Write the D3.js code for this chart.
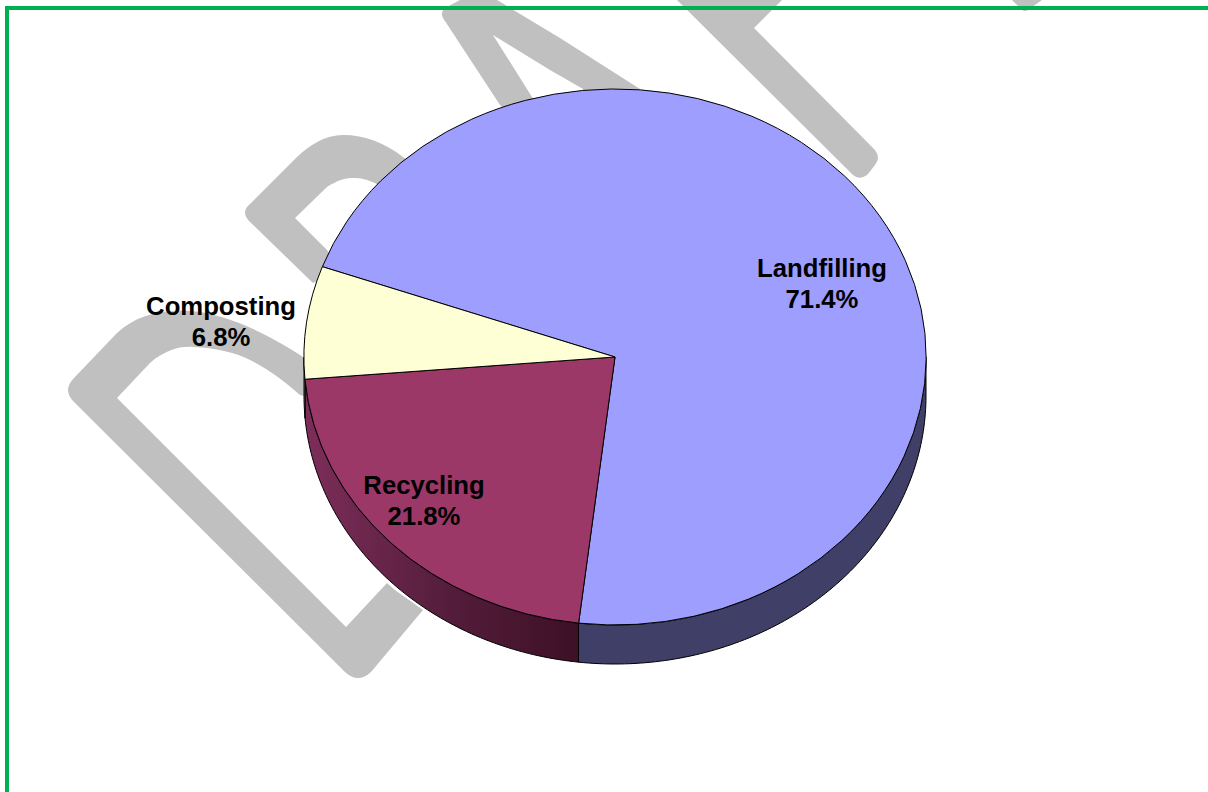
<!DOCTYPE html>
<html>
<head>
<meta charset="utf-8">
<script src="https://cdn.jsdelivr.net/npm/d3@7"></script>
<style>
    html, body { margin: 0; padding: 0; background: #fff; overflow: hidden; }
    svg { display: block; }
    text { font-family: "Liberation Sans", Arial, sans-serif; font-weight: bold; font-size: 25.7px; fill: #000; }
</style>
</head>
<body>
<div id="chart"></div>
<script>
const categories = ['Landfilling', 'Recycling', 'Composting'];
const shares = [71.4, 21.8, 6.8];
const topColors = ['#9e9eff', '#9c3868', '#ffffd5'];

// the grey DRAFT watermark (the pie hides the rest of it)
const watermark = [
    'M320,370 L300,355 C270,335 225,313 190,311 C160,309 135,316 117,333 L74,378 Q62,390 74,402 L345,672 Q358,684 371,672 L423,610 L395,590 L387,583 L346,627 L117,398 L150,363 C165,350 180,346 193,347 C215,348 235,352 250,360 C270,370 285,382 300,395 L320,400 Z',
    'M420,170 L403,157 C385,143 365,135 343,135 C325,135 310,145 297,157 L250,204 Q240,212 250,222 L313,283 L340,270 L327,250 L295,218 L327,187 C338,180 345,178 353,178 C362,178 368,180 375,183 L400,200 Z',
    'M460,0 L445,8 Q440,12 443,18 L500,105 L520,125 L545,115 L532,97 L493,35 L550,70 L583,89 L583,110 L640,110 L640,89 L560,38 L497,0 Z',
    'M677,0 L853,175 Q860,181 868,174 L875,165 Q881,158 875,150 L754,28 L782,0 Z',
    'M1012,0 L1022,10 Q1025,12 1028,10 L1042,0 Z'
];

const width = 1208;
const height = 792;
const cx = 615;
const cy = 357;
const rx = 311;
const ry = 268;
const depth = 39;

const svg = d3.select('#chart')
    .append('svg')
    .attr('width', width)
    .attr('height', height);

svg.append('g')
    .selectAll('path')
    .data(watermark)
    .join('path')
    .attr('d', (d) => d)
    .attr('fill', '#c0c0c0');

// Landfilling starts up on the left, about 70 degrees before 12 o'clock
const startAngle = -70.3 * Math.PI / 180;
const slices = d3.pie()
    .sort(null)
    .startAngle(startAngle)
    .endAngle(startAngle + 2 * Math.PI)(shares);

const defs = svg.append('defs');
const wallShade = defs.append('linearGradient')
    .attr('id', 'wall-recycling')
    .attr('gradientUnits', 'userSpaceOnUse')
    .attr('x1', cx - rx)
    .attr('x2', cx + rx * Math.sin(slices[1].startAngle))
    .attr('y1', 0)
    .attr('y2', 0);
wallShade.append('stop').attr('offset', 0).attr('stop-color', '#7d2e5a');
wallShade.append('stop').attr('offset', 0.55).attr('stop-color', '#531c3a');
wallShade.append('stop').attr('offset', 1).attr('stop-color', '#3d1025');

const wallColors = ['#3f3f68', 'url(#wall-recycling)', '#7f7f66'];

// side wall: only the front half of the ellipse (90 to 270 degrees) shows
const wallArea = d3.area()
    .x((t) => cx + rx * Math.sin(t))
    .y0((t) => cy - ry * Math.cos(t))
    .y1((t) => cy - ry * Math.cos(t) + depth);

function wallAngles(d) {
    const a = Math.max(d.startAngle, Math.PI / 2);
    const b = Math.min(d.endAngle, 3 * Math.PI / 2);
    if (b <= a) return [];
    const n = Math.ceil((b - a) * 60);
    return d3.range(n + 1).map((i) => a + (b - a) * i / n);
}

svg.append('g')
    .selectAll('path')
    .data(slices)
    .join('path')
    .attr('d', (d) => wallArea(wallAngles(d)))
    .attr('fill', (d, i) => wallColors[i])
    .attr('stroke', '#000')
    .attr('stroke-width', 1);

// top face: a unit pie squashed into the ellipse
const arc = d3.arc().innerRadius(0).outerRadius(1);
svg.append('g')
    .attr('transform', `translate(${cx},${cy}) scale(${rx},${ry})`)
    .selectAll('path')
    .data(slices)
    .join('path')
    .attr('d', arc)
    .attr('fill', (d, i) => topColors[i])
    .attr('stroke', '#000')
    .attr('stroke-width', 1)
    .attr('vector-effect', 'non-scaling-stroke');

// label anchors, first line baseline
const labelSpots = [[822, 277], [424, 494], [221, 315]];
const lineGap = 31;
const labels = svg.append('g')
    .selectAll('text')
    .data(categories)
    .join('text')
    .attr('text-anchor', 'middle')
    .attr('transform', (d, i) => `translate(${labelSpots[i][0]},${labelSpots[i][1]})`);
labels.append('tspan').attr('x', 0).attr('y', 0).text((d) => d);
labels.append('tspan').attr('x', 0).attr('y', lineGap).text((d, i) => d3.format('.1f')(shares[i]) + '%');

// green frame, only top and left are in the picture
svg.append('rect').attr('x', 5).attr('y', 6).attr('width', width - 5).attr('height', 4).attr('fill', '#00b050');
svg.append('rect').attr('x', 5).attr('y', 6).attr('width', 4).attr('height', height - 6).attr('fill', '#00b050');
</script>
</body>
</html>
